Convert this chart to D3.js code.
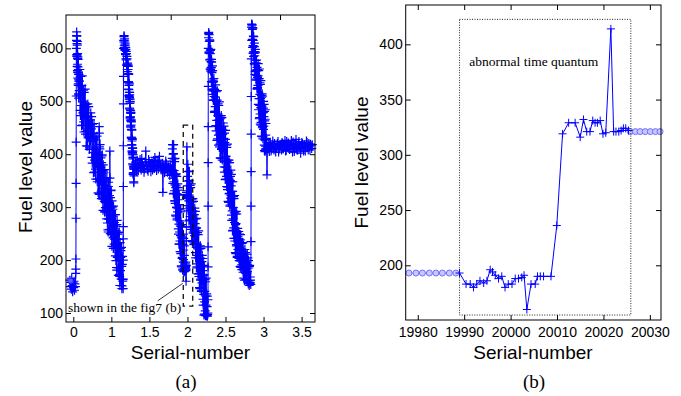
<!DOCTYPE html>
<html lang="en">
<head>
<meta charset="UTF-8" />
<title>Fuel level value</title>
<script src="https://d3js.org/d3.v7.min.js"></script>
<style>
  body { margin: 0; background: #fff; }
  svg { display: block; }
</style>
</head>
<body>
<div id="chart"></div>
<script>
// ---------- panel (a): serial-number (x 1e4) vs fuel level ----------
// each run is a stretch of readings with equally spaced serial numbers
const startLow = [162, 150, 158, 145, 165, 152, 140, 157, 148, 160, 143, 155, 150];
const rise1 = [175, 183, 202, 279, 345, 423, 510, 600];
const drain1a = [615, 624, 631, 588, 585, 623, 609, 587, 566, 606, 613, 558, 570, 581, 590, 555, 544,
  584, 565, 554, 579, 530, 533, 560, 514, 542, 551, 506, 538, 551, 512, 510];
const drain1b = [520, 538, 560, 483, 473, 547, 529, 492, 454, 530, 548, 455, 478, 499, 521, 461, 442,
  517, 490, 472, 523, 438, 443, 494, 416, 469, 490, 415, 472, 495, 431, 433, 490, 458, 409, 412, 457,
  465, 425, 478, 430, 448, 471, 394, 383, 457, 439, 403, 365, 440, 458, 366, 389, 409, 431, 372, 353,
  427, 400, 383, 434, 348, 353, 404, 327, 379, 400, 325];
const spike1 = [452, 440, 414, 376];
const drain1c = [324, 410, 418, 349, 350, 375, 393, 330, 316, 384, 364, 397, 399, 369, 319, 315, 294,
  380, 368, 326, 351, 365, 311, 291, 371, 335, 291, 299, 340, 355, 309, 312, 315, 278, 356, 335, 270,
  311, 326, 257, 253, 339, 347, 277, 279, 304, 322, 258];
const spike2 = [406, 355, 300];
const drain1d = [250, 318, 298, 331, 332, 302, 252, 248, 226, 312, 300, 258, 283, 296, 242, 222, 302,
  267, 222, 230, 271, 286, 239, 242, 245, 208, 286, 264, 199, 240, 255, 186, 181, 267, 275, 205, 206,
  231, 249, 185, 171, 239, 219, 252, 253, 223, 173, 169, 152, 233, 222, 180, 205, 218, 164, 152, 224,
  188, 146, 151, 192, 207, 160, 163];
const rise2 = [146, 164, 200, 240, 263, 339, 416, 495, 547, 600];
const drain2a = [615, 612, 622, 624, 606, 602, 618, 614, 598, 596, 610, 606, 590, 588, 602, 598, 580,
  578, 594, 590, 570, 568, 585, 580, 560, 556, 572, 566];
const drain2b = [560, 567, 570, 537, 537, 566, 552, 536, 523, 551, 552, 511, 522, 530, 535, 509, 504,
  533, 517, 508, 507, 487, 517, 512, 485, 496, 500, 467, 470, 504, 499, 470, 470, 479, 483, 453, 451,
  477, 464, 479, 455, 462, 465, 432, 432, 461, 447, 430, 418, 446, 446, 406, 417, 425, 430, 403, 399,
  428, 411, 403, 402, 382, 412, 406, 380, 391, 394, 362, 365, 399, 394, 364, 365, 374, 377, 348, 346,
  372, 359, 374];
const level2 = [372, 380, 385, 374, 368, 388, 380, 369, 375, 382, 390, 376, 370, 392, 384, 373, 378,
  366, 372, 385, 406, 378, 380, 371, 368, 390, 386, 379, 376, 367, 382, 384, 370, 377, 388, 373, 394,
  386, 376, 369, 385, 380, 372, 389, 396, 375, 380, 370, 374, 383, 328, 376, 378, 365, 370, 387, 382,
  372, 366, 378, 376, 368, 360, 380, 372, 370, 362];
const drain2c = [392, 410, 418, 355, 345, 418, 400, 363, 325, 401, 418, 326, 348, 369, 391, 331, 312,
  386, 359, 342, 392, 307, 312, 362, 285, 337, 358, 283, 340, 363, 299, 300, 358, 325, 276, 279, 324,
  332, 291, 344, 297, 314, 337, 259, 249, 323, 304, 268, 230, 305, 323, 230, 253, 274, 295, 236, 216,
  291, 264, 246, 297, 212, 216, 267, 189, 242, 263, 187, 245, 267, 203, 205, 262, 230, 181, 183, 229,
  236, 196, 249, 201, 219, 241, 178, 178, 227, 209, 180, 184, 188];
const abnormalA = [193, 183, 180, 186, 196, 188, 180, 190, 160, 183, 190, 236, 318, 328, 316, 331, 321,
  414, 320, 324, 322];
const drain3 = [340, 358, 381, 303, 293, 367, 349, 312, 274, 350, 368, 276, 298, 319, 341, 282, 262,
  337, 310, 293, 344, 258, 263, 314, 237, 289, 310, 235, 293, 316, 251, 253, 311, 279, 229, 232, 278,
  286, 246, 298, 251, 269, 292, 214, 204, 278, 260, 224, 185, 261, 279, 187, 209, 230, 252, 193, 174,
  248, 221, 204, 255, 169, 174, 225, 148, 201, 221, 146, 204, 227, 162, 164, 222, 190, 141, 143, 189,
  197, 157, 209, 162, 180, 203, 126, 115, 189, 171, 135, 96, 172, 190, 98, 121, 141, 163, 104, 95, 159,
  132, 115, 166, 96, 95, 136, 98, 112, 132, 94, 97, 100];
const rise3 = [125, 187, 225, 302, 384, 452, 528, 600];
const drain4a = [620, 628, 630, 591, 593, 626, 613, 593, 578, 616, 614, 561, 579, 590, 596, 560, 557,
  598, 575, 563, 564, 537, 579, 574, 537, 554, 558, 513, 522, 567, 558, 521, 523, 536, 540, 502, 502,
  537, 519, 543, 509, 520, 523, 479, 481, 522, 502, 481];
const drain4b = [490, 508, 531, 454, 444, 518, 500, 464, 426, 502, 520, 429, 452, 473, 495, 436, 417,
  492, 465, 448, 499, 414, 419, 470, 393, 446, 467, 392, 450, 473, 409, 411, 469, 437, 389, 392, 438,
  446, 406, 459, 412, 430, 453, 376, 366, 440, 422, 386];
const drain4c = [352, 428, 445, 353, 375, 396, 417, 358, 339, 413, 386, 368, 419, 333, 338, 389, 311,
  364, 384, 309, 366, 389, 325, 326, 384, 351, 302, 304, 350, 358, 317, 370, 322, 340, 362, 285, 275,
  348, 330, 293, 255, 330, 348, 256, 278, 299, 320, 261, 241, 316, 289, 271, 322, 236, 241, 291, 214,
  267, 287, 212, 269, 292, 227, 229, 287, 254, 205, 207, 253, 260, 220, 245];
const drain4d = [228, 241, 254, 203, 199, 249, 235, 211, 188, 238, 248, 186, 203, 218, 231, 191, 182,
  232, 212, 200, 233, 177, 183, 217, 166, 201, 214, 162, 203, 220, 177, 176, 214, 195, 164, 163, 195,
  202, 175, 211, 178, 191, 204, 158, 155, 199, 185, 161, 152, 188, 190, 156, 158, 168, 162, 154];
const rise4 = [235, 302, 367, 438, 509, 580];
const drain5a = [640, 646, 645, 615, 615, 644, 636, 617, 602, 637, 639, 591, 605, 615, 623, 591, 585,
  622, 604, 594, 594, 571, 610, 603, 569, 586, 591, 551, 556, 598, 593, 558, 559, 572, 577, 542, 540,
  572, 558, 578, 549, 558, 564, 524, 523, 560, 545, 526];
const drain5b = [530, 548, 571, 494, 484, 558, 540, 505, 467, 543, 561, 469, 492, 513, 535, 476, 457,
  532, 505, 488, 539, 455, 460, 511, 434, 487, 508, 433, 491, 514, 450, 452, 510, 478, 429, 433, 479,
  487, 447, 500, 453, 471, 494, 417, 407, 481, 463, 427, 405, 466, 484, 408, 415, 436, 458, 410, 410,
  430, 428, 411];
const level5 = [361, 414, 420, 410, 405, 422, 418, 406, 410, 418, 425, 412, 408, 420, 416, 404, 412,
  416, 420, 424, 404, 410, 418, 418, 414, 408, 422, 420, 410, 413, 416, 426, 406, 407, 424, 415, 412,
  421, 418, 409, 415, 417, 426, 411, 404, 423, 417, 405, 410, 419, 428, 414, 408, 408, 420, 424, 413,
  410, 402, 416, 422, 420, 412, 406, 418, 418, 406, 412, 425, 422, 414, 408, 420, 415, 408, 419, 416,
  411, 418];

// [first serial, last serial, readings]
const runsA = [
  [0.455, 0.528, startLow], [0.532, 0.540, rise1], [0.542, 0.575, drain1a],
  [0.578, 0.838, drain1b], [0.840, 0.844, spike1], [0.846, 0.978, drain1c],
  [0.980, 0.984, spike2], [0.986, 1.152, drain1d], [1.155, 1.160, rise2],
  [1.162, 1.214, drain2a], [1.218, 1.298, drain2b], [1.302, 1.797, level2],
  [1.800, 1.965, drain2c], [1.972, 1.996, abnormalA], [2.000, 2.268, drain3],
  [2.270, 2.274, rise3], [2.276, 2.362, drain4a], [2.365, 2.493, drain4b],
  [2.496, 2.665, drain4c], [2.668, 2.832, drain4d], [2.835, 2.839, rise4],
  [2.842, 2.922, drain5a], [2.926, 3.040, drain5b], [3.045, 3.640, level5]
];
const fadedSerialA = [0.458, 0.470];
const fadedFuelA = [163, 160];

const xTicksA = [0.5, 1, 1.5, 2, 2.5, 3, 3.5];
const xTickLabelsA = ['0', '1', '1.5', '2', '2.5', '3', '3.5'];
const topTicksA = [1.07, 1.78, 2.516, 3.216];
const yTicksA = [100, 200, 300, 400, 500, 600];

// ---------- panel (b): zoom on the abnormal time quantum ----------
const beforeSerial = [19978.1, 19979.6, 19981.0, 19982.5, 19983.9, 19985.3, 19986.8, 19988.2];
const beforeFuel = [193, 193, 193, 193, 193, 193, 193, 193];
const abnormalSerial = [19989.0, 19990.4, 19991.3, 19992.0, 19992.7, 19993.4, 19994.2, 19994.9,
  19995.6, 19996.1, 19996.7, 19997.4, 19998.1, 19998.8, 19999.5, 20000.3, 20001.0, 20001.7, 20002.4,
  20002.9, 20003.5, 20004.4, 20005.3, 20005.8, 20006.4, 20007.1, 20008.7, 20009.95, 20011.2, 20012.5,
  20013.9, 20015.0, 20015.7, 20016.4, 20017.1, 20017.7, 20018.2, 20018.7, 20019.3, 20019.9, 20020.5,
  20021.6, 20022.2, 20022.7, 20023.3, 20023.8, 20024.3, 20024.8, 20025.4];
const abnormalFuel = [193, 183, 183, 180, 183, 186, 184, 186, 196, 194, 191, 188, 190, 180, 183, 183,
  188, 188, 189, 191, 160, 183, 183, 190, 190, 190, 190, 236, 319, 329, 329, 316, 332, 321, 321, 331,
  329, 329, 331, 319, 320, 414, 321, 321, 321, 322, 324, 324, 322];
const afterSerial = [20025.8, 20026.9, 20027.9, 20029.0, 20030.1, 20031.2, 20032.2];
const afterFuel = [321, 321, 321, 321, 321, 321, 321];

const xTicksB = [19980, 19990, 20000, 20010, 20020, 20030];
const yTicksB = [200, 250, 300, 350, 400];

const BLUE = '#0000ff';
const sans = 'Liberation Sans, Arial, sans-serif';
const serif = 'Liberation Serif, Times New Roman, serif';

const svg = d3.select('#chart').append('svg').attr('width', 681).attr('height', 396);

const xA = d3.scaleLinear().domain([0.404, 3.676]).range([66, 315]);
const yA = d3.scaleLinear().domain([83, 663]).range([322, 15]);
const xB = d3.scaleLinear().domain([19977.4, 20032.4]).range([405.7, 661]);
const yB = d3.scaleLinear().domain([150.5, 435.6]).range([320, 5]);

function styleAxis(g) {
  g.select('.domain').remove();
  g.attr('font-family', sans).attr('font-size', 14);
  g.selectAll('line').attr('stroke', '#000');
}

function drawFrame(x, y, xt, xFmt, topT, yt, padX) {
  const [x0, x1] = x.range();
  const [y0, y1] = y.range();
  svg.append('g').attr('transform', `translate(0,${y0})`)
    .call(d3.axisBottom(x).tickValues(xt).tickFormat(xFmt).tickSizeInner(-5).tickSizeOuter(0).tickPadding(padX))
    .call(styleAxis);
  svg.append('g').attr('transform', `translate(0,${y1})`)
    .call(d3.axisTop(x).tickValues(topT).tickFormat('').tickSizeInner(-5).tickSizeOuter(0))
    .call(styleAxis);
  svg.append('g').attr('transform', `translate(${x0},0)`)
    .call(d3.axisLeft(y).tickValues(yt).tickSizeInner(-5).tickSizeOuter(0).tickPadding(3))
    .call(styleAxis);
  svg.append('g').attr('transform', `translate(${x1},0)`)
    .call(d3.axisRight(y).tickValues(yt).tickFormat('').tickSizeInner(-5).tickSizeOuter(0))
    .call(styleAxis);
  svg.append('rect')
    .attr('x', x0).attr('y', y1).attr('width', x1 - x0).attr('height', y0 - y1)
    .attr('fill', 'none').attr('stroke', '#000').attr('stroke-width', 1);
}

function plus(x, y, r) {
  return d => {
    const px = x(d.s), py = y(d.f);
    return `M${px - r},${py}h${2 * r}M${px},${py - r}v${2 * r}`;
  };
}

// ----- panel (a) -----
const pointsA = [];
runsA.forEach(([s0, s1, fuel]) => {
  const n = fuel.length;
  fuel.forEach((f, i) => pointsA.push({ s: s0 + (s1 - s0) * i / (n - 1), f }));
});

const lineA = d3.line().x(d => xA(d.s)).y(d => yA(d.f));
svg.append('path').datum(pointsA)
  .attr('d', lineA).attr('fill', 'none').attr('stroke', BLUE).attr('stroke-width', 1);
svg.append('g').selectAll('path').data(pointsA).join('path')
  .attr('d', plus(xA, yA, 4.5)).attr('stroke', BLUE).attr('stroke-width', 1.2).attr('fill', 'none');
svg.append('g').selectAll('circle').data(fadedSerialA.map((s, i) => ({ s, f: fadedFuelA[i] }))).join('circle')
  .attr('cx', d => xA(d.s)).attr('cy', d => yA(d.f)).attr('r', 3)
  .attr('fill', '#8080ff').attr('stroke', BLUE).attr('opacity', 0.5);

// dashed box marking the part shown in (b)
svg.append('rect')
  .attr('x', xA(1.945)).attr('y', yA(455))
  .attr('width', xA(2.069) - xA(1.945)).attr('height', yA(113) - yA(455))
  .attr('fill', 'none').attr('stroke', '#111').attr('stroke-width', 1.3)
  .attr('stroke-dasharray', '5,4');
svg.append('line')
  .attr('x1', xA(1.609)).attr('y1', yA(123)).attr('x2', xA(1.938)).attr('y2', yA(156))
  .attr('stroke', '#000').attr('stroke-width', 0.8);
svg.append('text')
  .attr('x', xA(0.43)).attr('y', yA(102.5))
  .attr('font-family', serif).attr('font-size', 13.5)
  .text('shown in the fig7 (b)');

drawFrame(xA, yA, xTicksA, (d, i) => xTickLabelsA[i], topTicksA, yTicksA, 5);

// ----- panel (b) -----
const before = beforeSerial.map((s, i) => ({ s, f: beforeFuel[i] }));
const abnormal = abnormalSerial.map((s, i) => ({ s, f: abnormalFuel[i] }));
const after = afterSerial.map((s, i) => ({ s, f: afterFuel[i] }));
const lineB = d3.line().x(d => xB(d.s)).y(d => yB(d.f));

svg.append('path').datum([...before, abnormal[0]])
  .attr('d', lineB).attr('fill', 'none').attr('stroke', BLUE).attr('stroke-opacity', 0.5);
svg.append('path').datum([abnormal[abnormal.length - 1], ...after])
  .attr('d', lineB).attr('fill', 'none').attr('stroke', BLUE).attr('stroke-opacity', 0.5);
svg.append('g').selectAll('circle').data([...before, ...after]).join('circle')
  .attr('cx', d => xB(d.s)).attr('cy', d => yB(d.f)).attr('r', 3)
  .attr('fill', '#c8c8ff').attr('stroke', '#6f6fff').attr('stroke-width', 1);

svg.append('path').datum(abnormal)
  .attr('d', lineB).attr('fill', 'none').attr('stroke', BLUE).attr('stroke-width', 1);
svg.append('g').selectAll('path').data(abnormal).join('path')
  .attr('d', plus(xB, yB, 4)).attr('stroke', BLUE).attr('stroke-width', 1).attr('fill', 'none');

// dotted box: abnormal time quantum
svg.append('rect')
  .attr('x', xB(19989.0)).attr('y', yB(422.6))
  .attr('width', xB(20025.9) - xB(19989.0)).attr('height', yB(155) - yB(422.6))
  .attr('fill', 'none').attr('stroke', '#222').attr('stroke-width', 1)
  .attr('stroke-dasharray', '1,1.5');
svg.append('text')
  .attr('x', xB(19991.1)).attr('y', yB(380))
  .attr('font-family', serif).attr('font-size', 13.5)
  .text('abnormal time quantum');

drawFrame(xB, yB, xTicksB, d3.format('d'), xTicksB, yTicksB, 7);

// ----- titles -----
[[190.5, 31.5, 167, '(a)', 186], [533, 368, 162.5, '(b)', 534]].forEach(([cx, ty, tyc, tag, tagx]) => {
  svg.append('text').attr('x', cx).attr('y', 358.5).attr('text-anchor', 'middle')
    .attr('font-family', sans).attr('font-size', 19).text('Serial-number');
  svg.append('text').attr('transform', `translate(${ty},${tyc}) rotate(-90)`)
    .attr('text-anchor', 'middle').attr('font-family', sans).attr('font-size', 19)
    .text('Fuel level value');
  svg.append('text').attr('x', tagx).attr('y', 388).attr('text-anchor', 'middle')
    .attr('font-family', serif).attr('font-size', 19).text(tag);
});
</script>
</body>
</html>
